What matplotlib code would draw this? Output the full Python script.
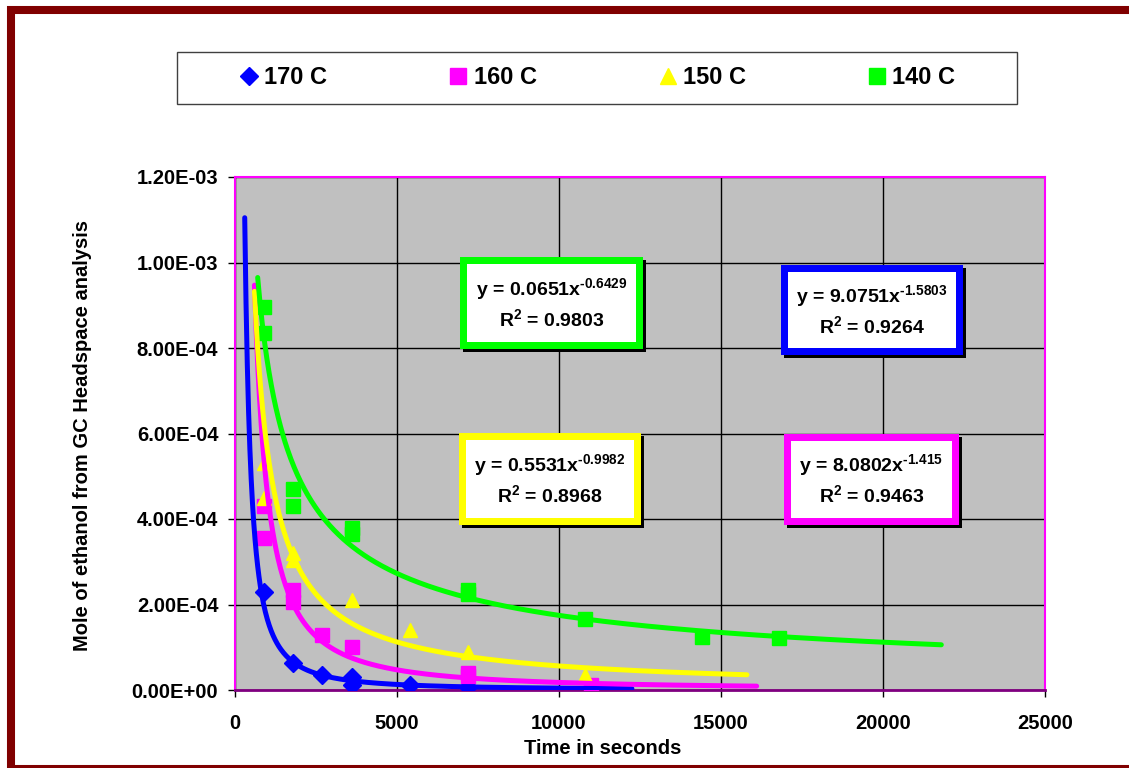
import numpy as np
import matplotlib
matplotlib.use("Agg")
import matplotlib.pyplot as plt
from matplotlib.patches import Rectangle
from matplotlib.lines import Line2D

plt.rcParams["font.family"] = ["Liberation Sans", "DejaVu Sans"]
plt.rcParams["font.weight"] = "bold"
plt.rcParams["mathtext.fontset"] = "custom"
plt.rcParams["mathtext.rm"] = "Liberation Sans:bold"
plt.rcParams["mathtext.it"] = "Liberation Sans:bold"
plt.rcParams["mathtext.bf"] = "Liberation Sans:bold"

# Measured data (time in s, mole of ethanol)
t170 = [900, 1800, 2700, 3600, 3600, 5400, 7200]
y170 = [2.3e-4, 6.2e-5, 3.5e-5, 3.1e-5, 1.2e-5, 1.1e-5, 7e-6]

t160 = [900, 900, 1800, 1800, 2700, 3600, 7200, 7200, 11000]
y160 = [4.3e-4, 3.55e-4, 2.35e-4, 2.05e-4, 1.28e-4, 1.0e-4, 4.0e-5, 3.2e-5, 1.1e-5]

t150 = [900, 900, 1800, 1800, 3600, 5400, 7200, 10800]
y150 = [5.3e-4, 4.5e-4, 3.2e-4, 3.05e-4, 2.1e-4, 1.4e-4, 8.9e-5, 3.5e-5]

t140 = [900, 900, 1800, 1800, 3600, 3600, 7200, 7200, 10800, 14400, 16800]
y140 = [8.95e-4, 8.35e-4, 4.7e-4, 4.3e-4, 3.8e-4, 3.65e-4, 2.35e-4, 2.25e-4,
        1.65e-4, 1.25e-4, 1.22e-4]

# Power trendlines y = a * x^b, drawn over the span shown in the chart
labels = ["170 C", "160 C", "150 C", "140 C"]
fit_a = [9.0751, 8.0802, 0.5531, 0.0651]
fit_b = [-1.5803, -1.415, -0.9982, -0.6429]
fit_r2 = ["0.9264", "0.9463", "0.8968", "0.9803"]
fit_start = [300, 600, 600, 700]
fit_end = [12250, 16100, 15800, 21800]

colors = ["#0000FF", "#FF00FF", "#FFFF00", "#00FF00"]
markers = ["D", "s", "^", "s"]

W, H = 1129, 768
fig = plt.figure(figsize=(W / 100, H / 100), dpi=100)


def fx(x):
    return x / W


def fy(y):
    return 1 - y / H


ax = fig.add_axes([fx(235), fy(690), (1045 - 235) / W, (690 - 177) / H])
ax.set_facecolor("#C0C0C0")

series = [(t170, y170), (t160, y160), (t150, y150), (t140, y140)]
for (t, y), c, m in zip(series, colors, markers):
    ax.plot(t, y, linestyle="none", marker=m, color=c, markersize=10 if m != "D" else 9,
            markeredgecolor=c, zorder=3)

for a, b, x0, x1, c in zip(fit_a, fit_b, fit_start, fit_end, colors):
    xs = np.linspace(x0, x1, 600)
    ax.plot(xs, a * xs ** b, color=c, lw=3.6, solid_capstyle="round", zorder=4)

ax.set_xlim(0, 25000)
ax.set_ylim(0, 1.2e-3)
ax.set_xticks(np.arange(0, 25001, 5000))
ax.set_yticks(np.arange(0, 1.21e-3, 2e-4))
ax.set_yticklabels(["%.2E" % v for v in np.arange(0, 1.21e-3, 2e-4)])
ax.grid(True, color="black", lw=1, zorder=1)
ax.set_axisbelow(True)
ax.tick_params(direction="out", length=5, width=1, color="black", labelsize=14.5)
ax.tick_params(axis="y", pad=7)
ax.tick_params(axis="x", pad=12)
for lab in ax.get_xticklabels() + ax.get_yticklabels():
    lab.set_fontweight("bold")
for side in ["top", "right", "left"]:
    ax.spines[side].set_color("#FF00FF")
    ax.spines[side].set_linewidth(1.5)
ax.spines["bottom"].set_color("#800080")
ax.spines["bottom"].set_linewidth(2)

ax.set_xlabel("Time in seconds", fontsize=14.5, fontweight="bold")
ax.xaxis.set_label_coords((603 - 235) / 810, -0.095)
ax.set_ylabel("Mole of ethanol from GC Headspace analysis", fontsize=14.5, fontweight="bold")
ax.yaxis.set_label_coords(-0.176, 0.497)

# Equation boxes (outer pixel extents) in series order
boxes = [(781, 265, 963, 355), (784, 434, 959, 525), (459, 433, 641, 525), (460, 257, 643, 349)]
for (x0, y0, x1, y1), a, b, r2, c in zip(boxes, fit_a, fit_b, fit_r2, colors):
    fig.add_artist(Rectangle((fx(x0 + 3), fy(y1 + 3)), (x1 - x0) / W, (y1 - y0) / H,
                             transform=fig.transFigure, facecolor="black", lw=0, zorder=5))
    fig.add_artist(Rectangle((fx(x0), fy(y1)), (x1 - x0) / W, (y1 - y0) / H,
                             transform=fig.transFigure, facecolor=c, lw=0, zorder=6))
    fig.add_artist(Rectangle((fx(x0 + 7), fy(y1 - 7)), (x1 - x0 - 14) / W, (y1 - y0 - 14) / H,
                             transform=fig.transFigure, facecolor="white", lw=0, zorder=7))
    cx = (x0 + x1) / 2
    cy = (y0 + y1) / 2
    fig.text(fx(cx), fy(cy - 14), r"y = %sx$^{\text{%s}}$" % (str(a), str(b)),
             ha="center", va="center", fontsize=14, fontweight="bold", zorder=8)
    fig.text(fx(cx), fy(cy + 16), "R$^{2}$ = %s" % r2,
             ha="center", va="center", fontsize=14, fontweight="bold", zorder=8)

# Legend box
fig.add_artist(Rectangle((fx(177), fy(104)), (1017 - 177) / W, (104 - 52) / H,
                         transform=fig.transFigure, facecolor="white", edgecolor="#404040",
                         lw=1, zorder=5))
handles = [Line2D([0], [0], marker=m, color=c, linestyle="none", markersize=11 if m != "D" else 9)
           for m, c in zip(markers, colors)]
leg = fig.legend(handles, labels, loc="center", bbox_to_anchor=(fx(598), fy(78)), ncol=4,
                 frameon=False, handlelength=0.7, handletextpad=0.3,
                 columnspacing=5.2, prop={"weight": "bold", "size": 17})
leg.set_zorder(9)

# Outer chart frame
fig.add_artist(Rectangle((fx(11), fy(769)), (1145 - 11) / W, (769 - 10) / H,
                         transform=fig.transFigure, fill=False, edgecolor="#800000",
                         lw=5.8, zorder=10))

fig.savefig("out.png", dpi=100)
